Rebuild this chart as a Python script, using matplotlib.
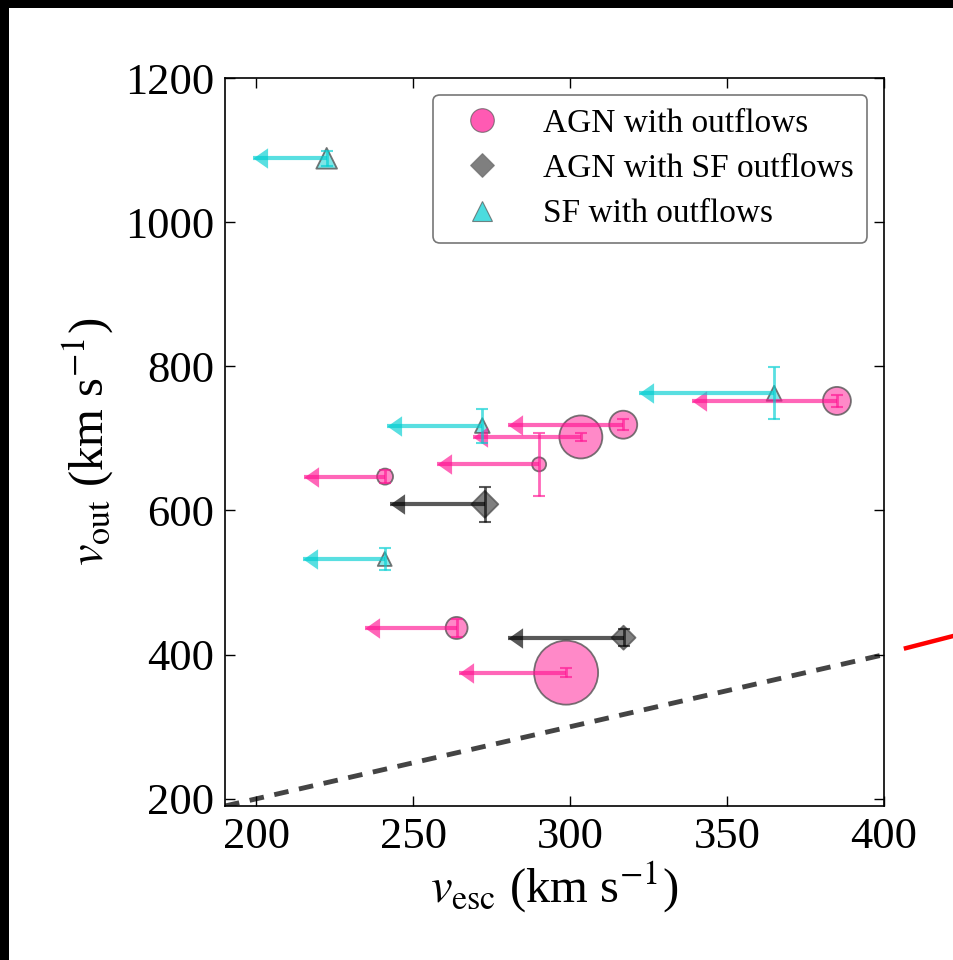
import numpy as np
import matplotlib
matplotlib.use("Agg")
import matplotlib.pyplot as plt
from matplotlib.lines import Line2D
from matplotlib.patches import Rectangle
from matplotlib.path import Path

plt.rcParams['font.family'] = ['Liberation Serif', 'DejaVu Serif']
plt.rcParams['mathtext.fontset'] = 'stix'

# AGN with outflows
agn_vesc = [385.0, 316.9, 303.4, 290.1, 241.0, 263.8, 298.7]
agn_vesc_lim = [338.8, 280.2, 268.9, 257.6, 215.2, 234.6, 264.6]
agn_vout = [752, 719, 702, 664, 647, 437, 375]
agn_vout_err = [8, 8, 6, 44, 9, 12, 6]
agn_size = [406, 406, 958, 102, 133, 251, 2123]

# AGN with SF outflows
agnsf_vesc = [272.8, 317.0]
agnsf_vesc_lim = [242.6, 280.3]
agnsf_vout = [608.6, 423.5]
agnsf_vout_err = [24, 12]
agnsf_size = [188, 149]

# SF with outflows
sf_vesc = [222.4, 365.0, 272.0, 240.9]
sf_vesc_lim = [199.0, 321.8, 241.6, 215.0]
sf_vout = [1088.6, 762.6, 717.8, 532.7]
sf_vout_err = [10, 36, 23.5, 15]
sf_size = [222, 117, 112, 100]

# one-to-one line
line_x = [190, 400]

# left-pointing arrow head with its tip at the marker position
arrow_head = Path([(0, 0), (1, 0.7), (1, -0.7), (0, 0)],
                  [Path.MOVETO, Path.LINETO, Path.LINETO, Path.CLOSEPOLY])

fig = plt.figure(figsize=(9.54, 9.60), dpi=100)
ax = fig.add_axes([225 / 954, 1 - 806 / 960, 659 / 954, 728 / 960])

ax.plot(line_x, line_x, ls='--', color='#444444', lw=3.5, dashes=(3, 2.2), zorder=1)

groups = [
    (agn_vesc, agn_vesc_lim, agn_vout, agn_vout_err, agn_size, 'o', '#ff1493'),
    (agnsf_vesc, agnsf_vesc_lim, agnsf_vout, agnsf_vout_err, agnsf_size, 'D', 'black'),
    (sf_vesc, sf_vesc_lim, sf_vout, sf_vout_err, sf_size, '^', 'darkturquoise'),
]

for vesc, lim, vout, verr, size, mk, col in groups:
    ax.scatter(vesc, vout, s=size, marker=mk, facecolor=col, alpha=0.5,
               edgecolor='none', zorder=2)
    ax.scatter(vesc, vout, s=size, marker=mk, facecolor='none',
               edgecolor='#555555', linewidths=1.3, alpha=0.8, zorder=2)
    # upper limits on v_esc
    ax.hlines(vout, lim, vesc, colors=col, lw=3.0, alpha=0.65, zorder=3)
    ax.plot(lim, vout, ls='none', marker=arrow_head, ms=21, color=col,
            markeredgewidth=0, alpha=0.65, zorder=3)
    ax.errorbar(vesc, vout, yerr=verr, fmt='none', ecolor=col,
                elinewidth=2.0, capsize=4, capthick=1.5, alpha=0.65, zorder=3)

ax.set_xlim(190, 400)
ax.set_ylim(190, 1200)
ax.set_xticks([200, 250, 300, 350, 400])
ax.set_yticks([200, 400, 600, 800, 1000, 1200])
ax.tick_params(direction='in', top=True, right=True, length=7, width=1,
               labelsize=32, pad=8)
for sp in ax.spines.values():
    sp.set_linewidth(1.2)

ax.set_xlabel(r'$v_{\rm esc}$ (km s$^{-1}$)', fontsize=35, labelpad=2)
ax.set_ylabel(r'$v_{\rm out}$ (km s$^{-1}$)', fontsize=35, labelpad=6)

handles = [
    Line2D([], [], ls='none', marker='o', markersize=17, markerfacecolor='#ff1493',
           markeredgecolor='#555555', markeredgewidth=0.8, alpha=0.7),
    Line2D([], [], ls='none', marker='D', markersize=12, markerfacecolor='black',
           markeredgecolor='#555555', markeredgewidth=0.8, alpha=0.5),
    Line2D([], [], ls='none', marker='^', markersize=15, markerfacecolor='darkturquoise',
           markeredgecolor='#555555', markeredgewidth=0.8, alpha=0.7),
]
labels = ['AGN with outflows', 'AGN with SF outflows', 'SF with outflows']
leg = ax.legend(handles, labels, loc='upper right', fontsize=24, numpoints=1,
                fancybox=True, framealpha=1, edgecolor='#777777',
                labelspacing=0.45, handlelength=2.1)
leg.get_frame().set_linewidth(1.2)

# red connector fragment at the right edge
ax.plot([407, 432], [409, 437], color='red', lw=3.2, clip_on=False, zorder=5)

# dark frame along top and left edges
fig.patches.append(Rectangle((0, 1 - 8 / 960), 1, 8 / 960, transform=fig.transFigure,
                             facecolor='black', edgecolor='none', zorder=10))
fig.patches.append(Rectangle((0, 0), 9 / 954, 1, transform=fig.transFigure,
                             facecolor='black', edgecolor='none', zorder=10))

fig.savefig('out.png', dpi=100, facecolor='white')
